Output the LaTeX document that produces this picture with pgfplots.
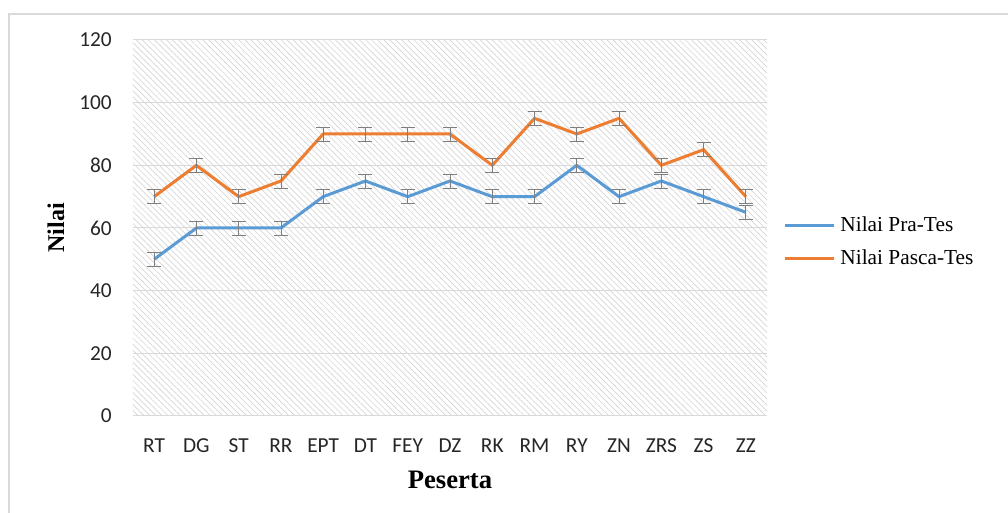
\documentclass[border=0pt]{standalone}
\usepackage{pgfplots}
\pgfplotsset{compat=1.18}
\usepackage{fontspec}
\setmainfont{Liberation Serif}
\newfontfamily\carlito{Carlito}
\usetikzlibrary{patterns.meta}
\definecolor{exblue}{RGB}{91,155,213}
\definecolor{exorange}{RGB}{237,125,49}
\definecolor{errgray}{RGB}{127,127,127}
\definecolor{gridgray}{RGB}{217,217,217}
\begin{document}
\begin{tikzpicture}
\useasboundingbox (0,0) rectangle (756pt,384.75pt);
\clip (0,0) rectangle (756pt,384.75pt);
\fill[white] (0,0) rectangle (756pt,384.75pt);
\draw[gridgray, line width=1.5pt] (6.4pt,-10pt) rectangle (780pt,374.25pt);
\begin{axis}[
  at={(99.75pt,72.75pt)}, anchor=south west,
  scale only axis, width=475.5pt, height=282pt,
  xmin=-0.5, xmax=14.5, ymin=0, ymax=120,
  xtick={0,...,14},
  xticklabels={RT,DG,ST,RR,EPT,DT,FEY,DZ,RK,RM,RY,ZN,ZRS,ZS,ZZ},
  ytick={0,20,...,120},
  major tick length=0pt,
  separate axis lines,
  axis x line*=bottom, axis y line*=left,
  x axis line style={draw=gridgray, line width=0.75pt, -},
  y axis line style={draw=none},
  ymajorgrids, grid style={gridgray, line width=0.75pt},
  axis background/.style={pattern={Lines[angle=-45,distance=3.2pt,line width=0.5pt]}, pattern color=gray!32},
  /pgf/number format/assume math mode=true,
  ticklabel style={font=\carlito\fontsize{16}{16}\selectfont, text=black!85},
  yticklabel style={inner sep=0pt, anchor=east, xshift=-15.75pt},
  xticklabel style={inner sep=0pt, anchor=base, yshift=-27.5pt},
  xlabel={\textbf{Peserta}},
  ylabel={\textbf{Nilai}},
  xlabel style={font=\fontsize{20}{20}\selectfont, at={(axis description cs:0.5,-0.17)}, anchor=center},
  ylabel style={font=\fontsize{18}{18}\selectfont, at={(axis description cs:-0.1215,0.5)}, anchor=center, rotate=0},
  legend style={at={(axis description cs:1.025,0.463)}, anchor=west, draw=none, fill=none, inner sep=0pt,
    font=\fontsize{16}{16}\selectfont, row sep=12pt,
    nodes={inner sep=0pt},
    /tikz/every odd column/.style={column sep=4pt}},
  legend cell align=left,
  legend image code/.code={\draw[#1, line width=2.25pt] (0pt,0pt) -- (36.75pt,0pt);},
  error bars/y dir=both, error bars/y explicit,
  error bars/error bar style={errgray, line width=0.6pt},
  error bars/error mark options={errgray, rotate=90, mark size=5.25pt, line width=0.6pt},
]
\addplot[exblue, line width=2.25pt, mark=none] table[x=x, y=y, y error=e] {
x y e
0 50 2.25
1 60 2.25
2 60 2.25
3 60 2.25
4 70 2.25
5 75 2.25
6 70 2.25
7 75 2.25
8 70 2.25
9 70 2.25
10 80 2.25
11 70 2.25
12 75 2.25
13 70 2.25
14 65 2.25
};
\addlegendentry{Nilai Pra-Tes}
\addplot[exorange, line width=2.25pt, mark=none] table[x=x, y=y, y error=e] {
x y e
0 70 2.25
1 80 2.25
2 70 2.25
3 75 2.25
4 90 2.25
5 90 2.25
6 90 2.25
7 90 2.25
8 80 2.25
9 95 2.25
10 90 2.25
11 95 2.25
12 80 2.25
13 85 2.25
14 70 2.25
};
\addlegendentry{Nilai Pasca-Tes}
\end{axis}
\end{tikzpicture}
\end{document}
